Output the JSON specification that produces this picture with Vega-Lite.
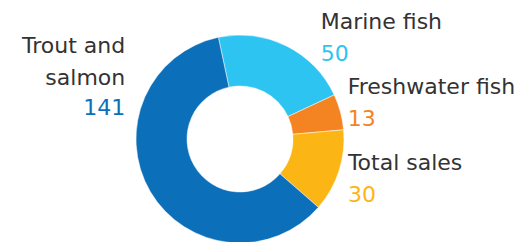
{
  "$schema": "https://vega.github.io/schema/vega-lite/v6.json",
  "width": 480,
  "height": 206,
  "padding": {"left": 0, "top": 36, "right": 52, "bottom": 0},
  "autosize": {"type": "none"},
  "background": "white",
  "view": {"stroke": null},
  "config": {"text": {"font": "DejaVu Sans", "fontSize": 22, "baseline": "alphabetic"}},
  "data": {
    "values": [
      {"category": "Marine fish", "value": 50, "order": 1},
      {"category": "Freshwater fish", "value": 13, "order": 2},
      {"category": "Total sales", "value": 30, "order": 3},
      {"category": "Trout and salmon", "value": 141, "order": 4}
    ]
  },
  "encoding": {
    "theta": {"field": "value", "type": "quantitative", "stack": true, "scale": {"range": [-0.2094, 6.0738]}},
    "order": {"field": "order", "type": "quantitative"},
    "detail": {"field": "category", "type": "nominal"}
  },
  "layer": [
    {
      "mark": {"type": "arc", "outerRadius": 104, "innerRadius": 53, "stroke": "white", "strokeWidth": 0.5},
      "encoding": {
        "color": {"field": "category", "type": "nominal", "legend": null,
          "scale": {"domain": ["Marine fish", "Freshwater fish", "Total sales", "Trout and salmon"],
                    "range": ["#2dc4f2", "#f48322", "#fbb616", "#0c6fb9"]}}
      }
    },
    {
      "mark": {"type": "text", "radius": 125, "align": "left", "dx": 25, "dy": 2, "color": "#333333"},
      "encoding": {"text": {"condition": {"test": "datum.category === 'Marine fish'", "field": "category"}, "value": ""}}
    },
    {
      "mark": {"type": "text", "radius": 125, "align": "left", "dx": 25, "dy": 34, "color": "#2dc4f2"},
      "encoding": {"text": {"condition": {"test": "datum.category === 'Marine fish'", "field": "value"}, "value": ""}}
    },
    {
      "mark": {"type": "text", "radius": 125, "align": "left", "dx": -13, "dy": -12, "color": "#333333"},
      "encoding": {"text": {"condition": {"test": "datum.category === 'Freshwater fish'", "field": "category"}, "value": ""}}
    },
    {
      "mark": {"type": "text", "radius": 125, "align": "left", "dx": -13, "dy": 20, "color": "#f48322"},
      "encoding": {"text": {"condition": {"test": "datum.category === 'Freshwater fish'", "field": "value"}, "value": ""}}
    },
    {
      "mark": {"type": "text", "radius": 125, "align": "left", "dx": -11, "dy": -8, "color": "#333333"},
      "encoding": {"text": {"condition": {"test": "datum.category === 'Total sales'", "field": "category"}, "value": ""}}
    },
    {
      "mark": {"type": "text", "radius": 125, "align": "left", "dx": -11, "dy": 24, "color": "#fbb616"},
      "encoding": {"text": {"condition": {"test": "datum.category === 'Total sales'", "field": "value"}, "value": ""}}
    },
    {
      "mark": {"type": "text", "radius": 125, "align": "right", "dx": -7, "dy": -149, "lineHeight": 32, "color": "#333333"},
      "encoding": {"text": {"condition": {"test": "datum.category === 'Trout and salmon'", "value": ["Trout and", "salmon"]}, "value": ""}}
    },
    {
      "mark": {"type": "text", "radius": 125, "align": "right", "dx": -7, "dy": -87, "color": "#0c6fb9"},
      "encoding": {"text": {"condition": {"test": "datum.category === 'Trout and salmon'", "field": "value"}, "value": ""}}
    }
  ]
}
